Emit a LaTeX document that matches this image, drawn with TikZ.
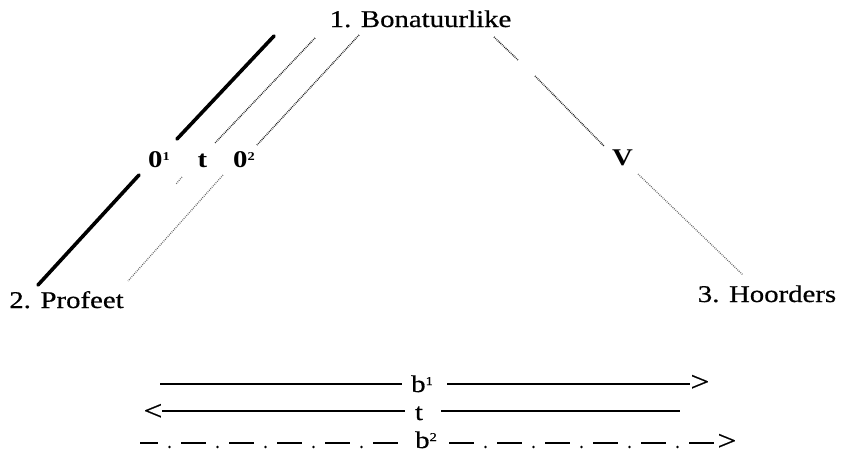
\documentclass[tikz,border=0pt]{standalone}
\usepackage{fontspec}
\setmainfont{Liberation Serif}[FakeStretch=1.2, UprightFeatures={FakeBold=0.6}]
\newcommand{\sups}[1]{\raisebox{7pt}{\fontsize{12}{12}\selectfont #1}}
\tikzset{
  lbl/.style={font=\fontsize{24}{28}\selectfont, inner sep=0pt, anchor=base, text depth=0pt},
  blbl/.style={font=\fontsize{24}{28}\selectfont\bfseries, inner sep=0pt, anchor=base, text depth=0pt},
  chev/.style={font=\fontsize{28}{30}\selectfont, inner sep=0pt, anchor=base, text depth=0pt},
  thickln/.style={line width=3.6pt, line cap=round},
  dotln/.style={line width=1.5pt, dash pattern=on 0.8pt off 1.0pt, black!85},
  faintdot/.style={line width=1.3pt, dash pattern=on 0.8pt off 1.2pt, black!60},
  rule/.style={line width=1.6pt},
  dashdot/.style={line width=1.6pt, dash pattern=on 25pt off 23pt},
  typedot/.style={fill=black, draw=none},
}
\begin{document}
\begin{tikzpicture}[x=1pt,y=-1pt]
\useasboundingbox (0,0) rectangle (841,451);

% labels
\node[lbl] (bon) at (420.5,27) {1. Bonatuurlike};
\node[lbl] (prof) at (66.5,308) {2. Profeet};
\node[lbl] (hoor) at (767,302) {3. Hoorders};
\node[blbl] (o1) at (159,167) {0\sups{1}};
\node[blbl] (tt) at (202.5,167) {t};
\node[blbl] (o2) at (244,167) {0\sups{2}};
\node[blbl] (v) at (622.5,165) {V};

% thick line (0^1)
\coordinate (a1) at (274,36);
\coordinate (a2) at (177,139);
\coordinate (a3) at (139,175);
\coordinate (a4) at (38,285);
\draw[thickln] (a1) -- (a2);
\draw[thickln] (a3) -- (a4);

% t line
\coordinate (t1) at (315,38);
\coordinate (t2) at (215,143);
\coordinate (t3) at (182,177);
\coordinate (t4) at (176,184);
\draw[dotln] (t1) -- (t2);
\draw[faintdot] (t3) -- (t4);

% 0^2 line
\coordinate (c1) at (359,35);
\coordinate (c2) at (257,145);
\coordinate (c3) at (223,175);
\coordinate (c4) at (128,281);
\draw[dotln] (c1) -- (c2);
\draw[faintdot] (c3) -- (c4);

% V line
\coordinate (v1) at (494,37);
\coordinate (v2) at (518,60);
\coordinate (v3) at (535,76);
\coordinate (v4) at (604,146);
\coordinate (v5) at (638,174);
\coordinate (v6) at (743,275);
\draw[dotln] (v1) -- (v2);
\draw[dotln] (v3) -- (v4);
\draw[faintdot] (v5) -- (v6);

% bottom rows
\node[lbl] (b1) at (422,392) {b\sups{1}};
\node[lbl] (tb) at (419,420) {t};
\node[lbl] (b2) at (426,448) {b\sups{2}};

\coordinate (r1s) at (160,384);
\coordinate (r1m) at (402,384);
\coordinate (r1n) at (447,384);
\coordinate (r1e) at (690,384);
\draw[rule] (r1s) -- (r1m);
\draw[rule] (r1n) -- (r1e);
\node[chev] (g1) at (700,391) {>};

\node[chev] (g2) at (153,420) {<};
\coordinate (r2s) at (162,411);
\coordinate (r2m) at (405,411);
\coordinate (r2n) at (441,411);
\coordinate (r2e) at (680,411);
\draw[rule] (r2s) -- (r2m);
\draw[rule] (r2n) -- (r2e);

\coordinate (r3s) at (140,443);
\coordinate (r3m) at (400,443);
\coordinate (r3n) at (449,443);
\coordinate (r3e) at (716,443);
\draw[dashdot, dash phase=7pt] (r3s) -- (r3m);
\draw[dashdot] (r3n) -- (r3e);
\foreach \x in {169.5,217.5,265.5,313.5,361.5,485.5,533.5,581.5,629.5,677.5}
  \fill[typedot] (\x,447) circle (1.3pt);
\node[chev] (g3) at (727,450) {>};
\end{tikzpicture}
\end{document}
